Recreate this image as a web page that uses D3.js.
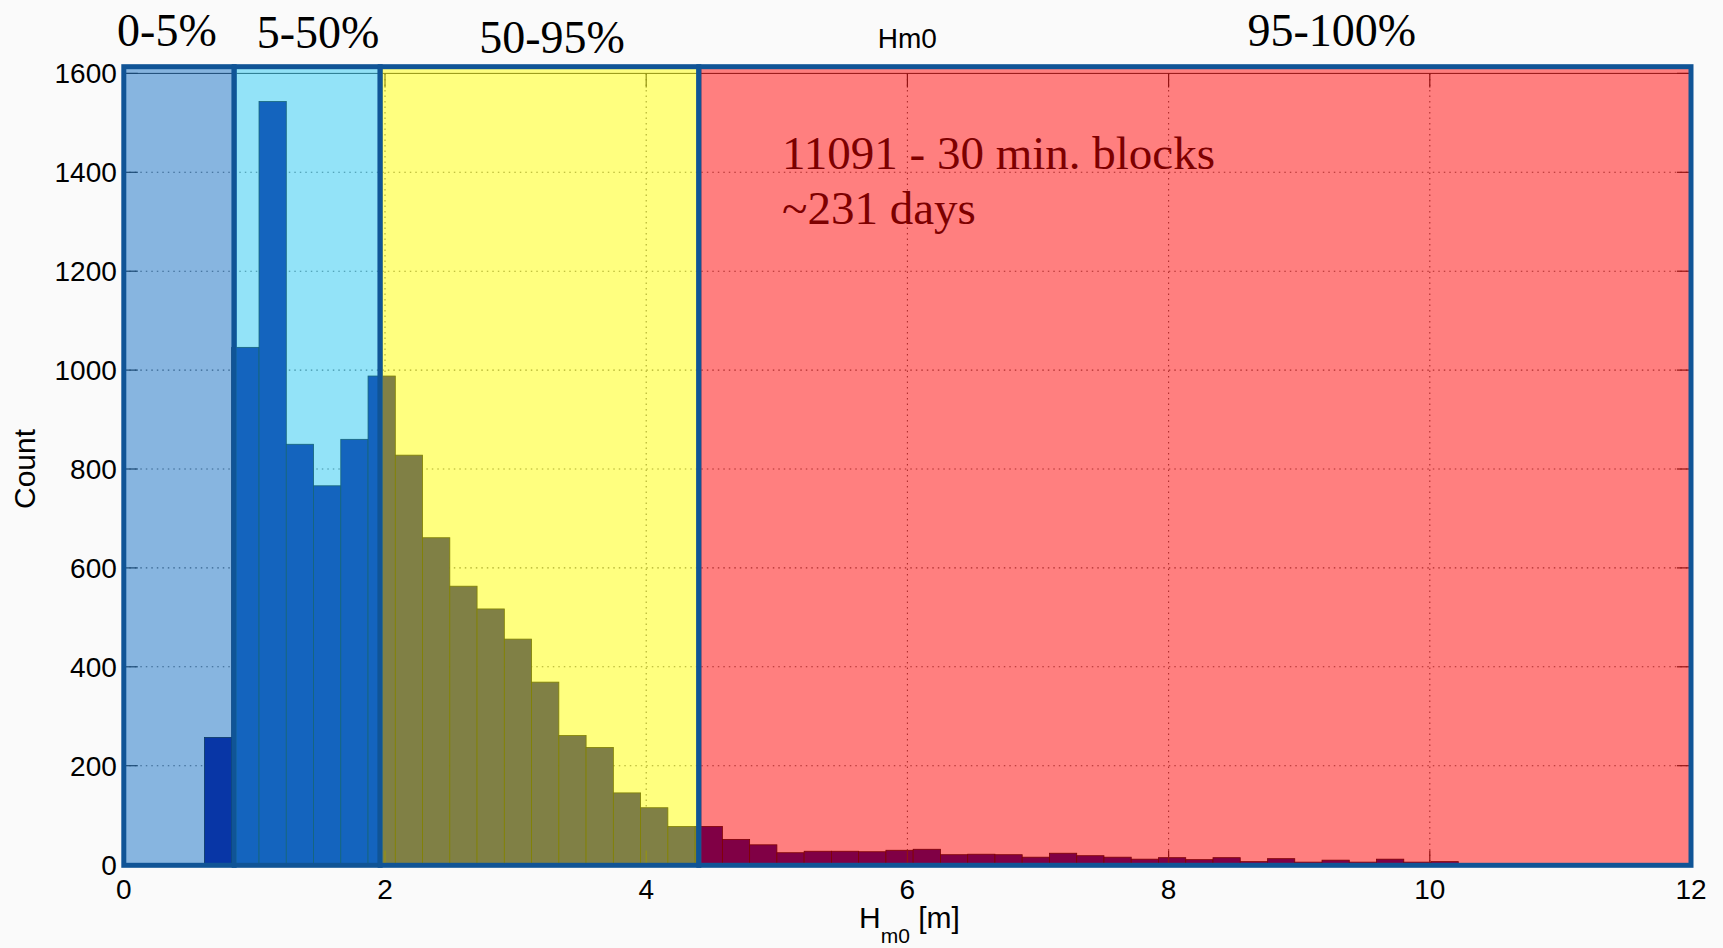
<!DOCTYPE html>
<html>
<head>
<meta charset="utf-8">
<script src="https://cdn.jsdelivr.net/npm/d3@7"></script>
<style>
  html, body { margin: 0; padding: 0; background: #fafafa; }
  svg { display: block; }
  .tick-label { font-family: "Liberation Sans", Arial, sans-serif; font-size: 28px; fill: #000; }
  .serif { font-family: "Liberation Serif", "DejaVu Serif", serif; }
</style>
</head>
<body>
<svg id="chart" width="1723" height="948"></svg>
<script>
// Histogram of significant wave height Hm0 (50 equal bins)
const binStart = 0.618;      // lower edge of the first bin [m]
const binWidth = 0.2087;     // bin width [m]
const counts = [257, 1046, 1543, 850, 766, 860, 988, 828, 661, 563,
                517, 456, 369, 261, 237, 145, 115, 77, 77, 51,
                40, 24, 27, 27, 26, 29, 31, 20, 21, 20,
                15, 23, 18, 15, 11, 14, 10, 14, 6, 12,
                5, 9, 5, 11, 5, 6, 1, 1, 0, 2];

// Percentile bands (boundaries in m) and their labels
const bandEdges = [0, 0.845, 1.963, 4.403, 12];
const bandLabels = ["0-5%", "5-50%", "50-95%", "95-100%"];
const bandColors = ["#0f6bc1", "#27c7f1", "#ffff00", "#ff0000"];
// label anchor along the H axis [m] and baseline offset above the frame [px]
const bandLabelX = [0.33, 1.487, 3.279, 9.25];
const bandLabelLift = [27, 25, 20, 27];

const xTicks = [0, 2, 4, 6, 8, 10, 12];
const yTicks = [0, 200, 400, 600, 800, 1000, 1200, 1400, 1600];

const titleText = "Hm0";
const yLabelText = "Count";
const noteLines = ["11091 - 30 min. blocks", "~231 days"];

// ---- layout ----
const svg = d3.select("#chart");
const x = d3.scaleLinear().domain([0, 12]).range([123.8, 1691]);
const y = d3.scaleLinear().domain([0, 1600]).range([864.6, 73.4]);
const [x0, x1] = x.range();
const [yb, yt] = y.range();
const tickLen = 14;

// axes background
svg.append("rect")
  .attr("x", x0).attr("y", yt)
  .attr("width", x1 - x0).attr("height", yb - yt)
  .attr("fill", "#ffffff");

// dotted grid
const grid = svg.append("g").attr("stroke", "#5a5a5a").attr("stroke-width", 1.1)
  .attr("stroke-dasharray", "1.5,4");
grid.selectAll("line.v").data(xTicks.slice(1, -1)).join("line")
  .attr("x1", d => x(d)).attr("x2", d => x(d))
  .attr("y1", yt).attr("y2", yb);
grid.selectAll("line.h").data(yTicks.slice(1, -1)).join("line")
  .attr("x1", x0).attr("x2", x1)
  .attr("y1", d => y(d)).attr("y2", d => y(d));

// histogram bars
const bins = counts.map((c, i) => ({ lo: binStart + i * binWidth, hi: binStart + (i + 1) * binWidth, c }));
svg.append("g").selectAll("rect").data(bins).join("rect")
  .attr("x", d => x(d.lo))
  .attr("width", d => x(d.hi) - x(d.lo))
  .attr("y", d => y(d.c))
  .attr("height", d => y(0) - y(d.c))
  .attr("fill", "#00008a")
  .attr("stroke", "#000000")
  .attr("stroke-width", 0.8);

// axis box and inward ticks
const axisCol = "#262626";
svg.append("rect")
  .attr("x", x0).attr("y", yt)
  .attr("width", x1 - x0).attr("height", yb - yt)
  .attr("fill", "none").attr("stroke", axisCol).attr("stroke-width", 1);
const ticks = svg.append("g").attr("stroke", axisCol).attr("stroke-width", 1.2);
xTicks.forEach(t => {
  ticks.append("line").attr("x1", x(t)).attr("x2", x(t)).attr("y1", yb).attr("y2", yb - tickLen);
  ticks.append("line").attr("x1", x(t)).attr("x2", x(t)).attr("y1", yt).attr("y2", yt + tickLen);
});
yTicks.forEach(t => {
  ticks.append("line").attr("x1", x0).attr("x2", x0 + tickLen).attr("y1", y(t)).attr("y2", y(t));
  ticks.append("line").attr("x1", x1).attr("x2", x1 - tickLen).attr("y1", y(t)).attr("y2", y(t));
});

// translucent percentile bands with solid frames
const bandTop = yt - 6.7, bandBottom = yb + 0.7;
const bands = bandLabels.map((lab, i) => ({ lab, lo: bandEdges[i], hi: bandEdges[i + 1], col: bandColors[i], lx: bandLabelX[i], lift: bandLabelLift[i] }));
svg.append("g").selectAll("rect").data(bands).join("rect")
  .attr("x", d => x(d.lo))
  .attr("width", d => x(d.hi) - x(d.lo))
  .attr("y", bandTop)
  .attr("height", bandBottom - bandTop)
  .attr("fill", d => d.col)
  .attr("fill-opacity", 0.5)
  .attr("stroke", "#105496")
  .attr("stroke-width", 5);

// band labels above the frame
svg.append("g").selectAll("text").data(bands).join("text")
  .attr("class", "serif")
  .attr("x", d => x(d.lx))
  .attr("y", d => yt - d.lift)
  .attr("text-anchor", "middle")
  .attr("font-size", 46)
  .attr("fill", "#000")
  .text(d => d.lab);

// tick labels
svg.append("g").selectAll("text").data(yTicks).join("text")
  .attr("class", "tick-label")
  .attr("x", x0 - 7)
  .attr("y", d => y(d))
  .attr("dy", "0.36em")
  .attr("text-anchor", "end")
  .text(d => d);
svg.append("g").selectAll("text").data(xTicks).join("text")
  .attr("class", "tick-label")
  .attr("x", d => x(d))
  .attr("y", yb + 34)
  .attr("text-anchor", "middle")
  .text(d => d);

// title
svg.append("text")
  .attr("class", "tick-label")
  .attr("x", x(6)).attr("y", 48)
  .attr("text-anchor", "middle")
  .text(titleText);

// y axis label
svg.append("text")
  .attr("class", "tick-label")
  .style("font-size", "30px")
  .attr("transform", `translate(35, ${(yt + yb) / 2}) rotate(-90)`)
  .attr("text-anchor", "middle")
  .text(yLabelText);

// x axis label: H with subscript m0
const xl = svg.append("text")
  .attr("class", "tick-label")
  .style("font-size", "30px")
  .attr("x", x(6) + 2).attr("y", 928)
  .attr("text-anchor", "middle");
xl.append("tspan").text("H");
xl.append("tspan").attr("dy", 15).style("font-size", "21px").text("m0");
xl.append("tspan").attr("dy", -15).text(" [m]");

// annotation
const note = svg.append("text")
  .attr("class", "serif")
  .attr("font-size", 47)
  .attr("fill", "#7d0000");
noteLines.forEach((line, i) => {
  note.append("tspan").attr("x", 782).attr("y", 169 + i * 55).text(line);
});
</script>
</body>
</html>
